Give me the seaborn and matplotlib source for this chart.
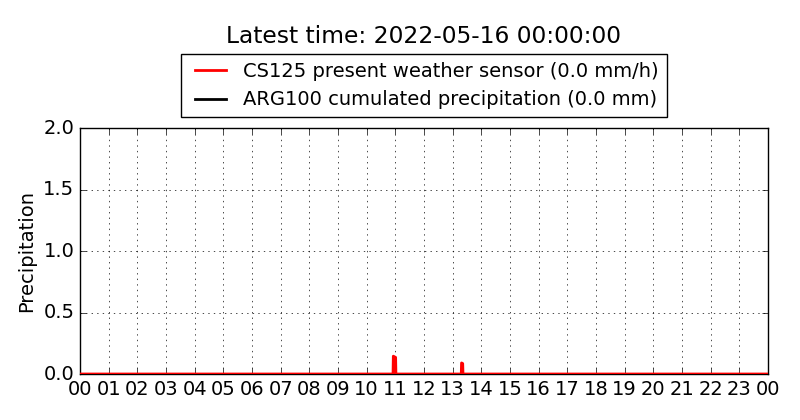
import matplotlib
matplotlib.use('Agg')
import matplotlib.pyplot as plt
import matplotlib.dates as mdates
import pandas as pd
import seaborn as sns

day = pd.Timestamp('2022-05-15 00:00:00')

# CS125 rain rate, sparse samples (hour of day -> mm/h)
cs125_hours = [0.0, 10.92, 10.93, 10.97, 11.01, 11.02, 13.30, 13.31, 13.35, 13.36, 24.0]
cs125_rate = [0.0, 0.0, 0.145, 0.14, 0.135, 0.0, 0.0, 0.09, 0.085, 0.0, 0.0]

# ARG100 cumulated precipitation (mm)
arg_hours = [0.0, 24.0]
arg_cum = [0.0, 0.0]

df_cs = pd.DataFrame({'time': day + pd.to_timedelta(cs125_hours, unit='h'), 'value': cs125_rate})
df_arg = pd.DataFrame({'time': day + pd.to_timedelta(arg_hours, unit='h'), 'value': arg_cum})

plt.style.use('classic')
plt.rcParams['font.family'] = ['DejaVu Sans']

fig = plt.figure(figsize=(8, 4.2), dpi=100, facecolor='white')
ax = fig.add_axes([0.1, 0.1095, 0.86, 0.5855])

# red drawn above the black line, as in the original
sns.lineplot(data=df_cs, x='time', y='value', color='red', linewidth=2,
             label='CS125 present weather sensor (0.0 mm/h)', ax=ax, zorder=3)
sns.lineplot(data=df_arg, x='time', y='value', color='black', linewidth=2,
             label='ARG100 cumulated precipitation (0.0 mm)', ax=ax, zorder=2)

ax.set_xlim(day, day + pd.Timedelta(hours=24))
ax.set_ylim(0, 2.0)
ax.xaxis.set_major_locator(mdates.HourLocator(interval=1))
ax.xaxis.set_major_formatter(mdates.DateFormatter('%H'))
ax.set_yticks([0.0, 0.5, 1.0, 1.5, 2.0])
ax.tick_params(labelsize=14)
ax.set_xlabel('')
ax.set_ylabel('Precipitation', fontsize=14)
ax.grid(True, color='k', linestyle=':', linewidth=0.5)

ax.legend(loc='lower center', bbox_to_anchor=(0.5, 1.005), fontsize=14,
          frameon=True, handlelength=2.2, handletextpad=0.6,
          borderpad=0.4, labelspacing=0.5)
ax.set_title('Latest time: 2022-05-16 00:00:00', fontsize=16.8, pad=61)

fig.savefig('out.png', dpi=100, facecolor='white')
